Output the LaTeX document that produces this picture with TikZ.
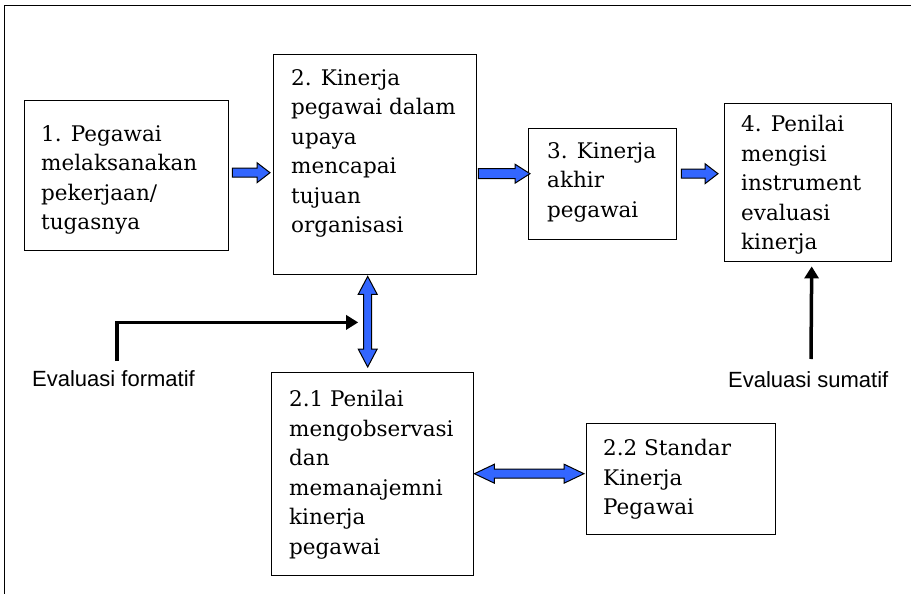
\documentclass[tikz,border=0pt]{standalone}
\usepackage{fontspec}
\setmainfont{DejaVu Serif}
\newfontfamily\lblfont{Liberation Sans}
\usetikzlibrary{arrows.meta,calc}
\definecolor{arrowblue}{RGB}{51,102,255}
\newcommand\hblock[5]{%
  \draw[blk] let \p1=(#1), \p2=(#2) in
   (\x1,{\y1+#3pt}) -- ({\x2-#5pt},{\y1+#3pt}) -- ({\x2-#5pt},{\y1+#4pt}) -- (\x2,\y1)
   -- ({\x2-#5pt},{\y1-#4pt}) -- ({\x2-#5pt},{\y1-#3pt}) -- (\x1,{\y1-#3pt}) -- cycle;}
\newcommand\hdouble[5]{%
  \draw[blk] let \p1=(#1), \p2=(#2) in
   (\x1,\y1) -- ({\x1+#5pt},{\y1+#4pt}) -- ({\x1+#5pt},{\y1+#3pt}) -- ({\x2-#5pt},{\y1+#3pt})
   -- ({\x2-#5pt},{\y1+#4pt}) -- (\x2,\y1) -- ({\x2-#5pt},{\y1-#4pt}) -- ({\x2-#5pt},{\y1-#3pt})
   -- ({\x1+#5pt},{\y1-#3pt}) -- ({\x1+#5pt},{\y1-#4pt}) -- cycle;}
\newcommand\vdouble[5]{%
  \draw[blk] let \p1=(#1), \p2=(#2) in
   (\x1,\y1) -- ({\x1+#4pt},{\y1-#5pt}) -- ({\x1+#3pt},{\y1-#5pt}) -- ({\x1+#3pt},{\y2+#5pt})
   -- ({\x1+#4pt},{\y2+#5pt}) -- (\x1,\y2) -- ({\x1-#4pt},{\y2+#5pt}) -- ({\x1-#3pt},{\y2+#5pt})
   -- ({\x1-#3pt},{\y1-#5pt}) -- ({\x1-#4pt},{\y1-#5pt}) -- cycle;}
\begin{document}
\begin{tikzpicture}[x=1pt,y=-1pt,
  box/.style={draw=black, line width=1.4pt, inner sep=0pt, anchor=north west},
  boxtext/.style={anchor=north west, inner sep=0pt, align=left, font=\fontsize{21.5}{29.5}\selectfont},
  lbl/.style={anchor=west, inner sep=0pt, font=\lblfont\fontsize{22}{26}\selectfont},
  blk/.style={draw=black, line width=1pt, fill=arrowblue, line join=miter},
  evalarrow/.style={line width=3.5pt, line join=miter, -{Triangle[length=12pt,width=14pt]}}]
\useasboundingbox (0,0) rectangle (911,594);
% frame
\draw[line width=1pt] (4,594) -- (4,6) -- (911,6);
% boxes
\node[box, minimum width=204pt, minimum height=150pt] (b1) at (24,100) {};
\node[box, minimum width=203pt, minimum height=220pt] (b2) at (273,54) {};
\node[box, minimum width=148pt, minimum height=111pt] (b3) at (528,128) {};
\node[box, minimum width=167pt, minimum height=158pt] (b4) at (724,103) {};
\node[box, minimum width=202pt, minimum height=203pt] (b21) at (271,372) {};
\node[box, minimum width=189pt, minimum height=111pt] (b22) at (586,423) {};
% texts
\node[boxtext] (t1) at ($(b1.north west)+(17,25)$) {1. Pegawai\\melaksanakan\\pekerjaan/\\tugasnya};
\node[boxtext] (t2) at ($(b2.north west)+(18,15)$) {2. Kinerja\\pegawai dalam\\upaya\\mencapai\\tujuan\\organisasi};
\node[boxtext] (t3) at ($(b3.north west)+(19,14)$) {3. Kinerja\\akhir\\pegawai};
\node[boxtext] (t4) at ($(b4.north west)+(17,12)$) {4. Penilai\\mengisi\\instrument\\evaluasi\\kinerja};
\node[boxtext] (t21) at ($(b21.north west)+(18,18)$) {2.1 Penilai\\mengobservasi\\dan\\memanajemni\\kinerja\\pegawai};
\node[boxtext] (t22) at ($(b22.north west)+(17,16)$) {2.2 Standar\\Kinerja\\Pegawai};
% labels
\node[lbl] (lf) at (32,379) {Evaluasi formatif};
\node[lbl] (ls) at (728,380) {Evaluasi sumatif};
% blue block arrows
\coordinate (a1s) at ($(b1.east)+(3,-3)$);
\coordinate (a1e) at ($(b2.west)+(-3,8)$);
\coordinate (a2s) at ($(b2.east)+(1,9)$);
\coordinate (a2e) at ($(b3.west)+(2,-10.5)$);
\coordinate (a3s) at ($(b3.east)+(4,-10.5)$);
\coordinate (a3e) at ($(b4.west)+(-6,-9)$);
\hblock{a1s}{a1e}{4.5}{10}{13}
\hblock{a2s}{a2e}{5}{9.5}{15}
\hblock{a3s}{a3e}{4.5}{10}{13}
\coordinate (vd1) at ($(b2.south)+(-7.5,1)$);
\coordinate (vd2) at ($(b21.north)+(-5,-5)$);
\vdouble{vd1}{vd2}{4}{9.5}{18}
\coordinate (hd1) at ($(b21.east)+(0,-0.5)$);
\coordinate (hd2) at ($(b22.west)+(-2,-5.5)$);
\hdouble{hd1}{hd2}{4.5}{9.5}{20}
% evaluation arrows
\coordinate (fs) at (117,361);
\coordinate (fe) at ($(vd1)+(-9.5,46)$);
\draw[evalarrow] (fs) |- (fe);
\coordinate (ss) at (811,359);
\coordinate (se) at ($(b4.south)+(3.5,4)$);
\draw[evalarrow] (ss) -- (se);
\end{tikzpicture}
\end{document}
